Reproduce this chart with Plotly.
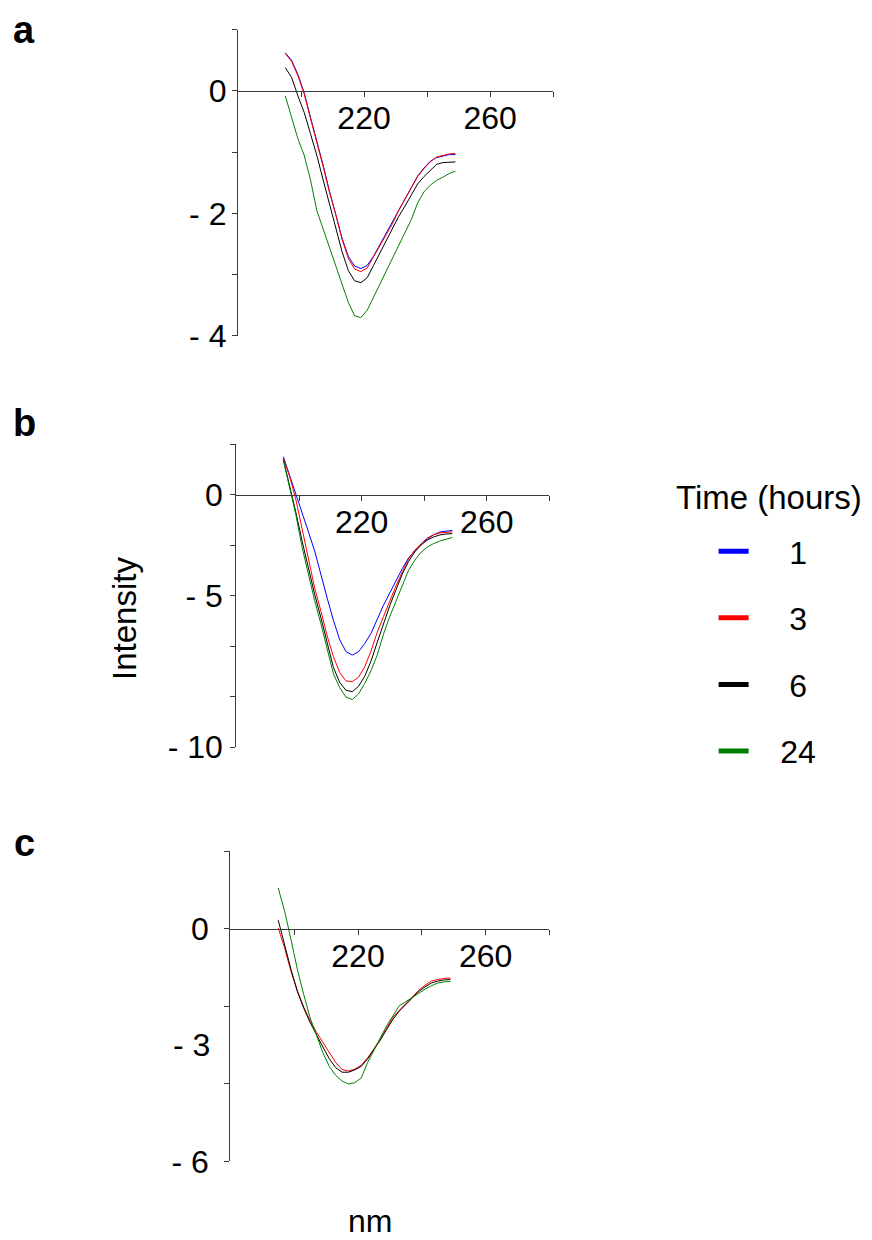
import plotly.graph_objects as go

# ---------------- data ----------------
WAVELENGTH = [195, 197, 199, 201, 203, 205, 207, 209, 211, 213, 215, 217, 219, 221,
              223, 225, 227, 229, 231, 233, 235, 237, 239, 241, 243, 245, 247, 249]

SERIES_NAMES = ["1", "3", "6", "24"]
SERIES_COLORS = ["#0000ff", "#ff0000", "#000000", "#008000"]

# panel a
A_1H = [0.62, 0.50, 0.27, -0.03, -0.43, -0.80, -1.21, -1.63, -2.00, -2.40, -2.70, -2.86, -2.90, -2.85,
        -2.70, -2.51, -2.33, -2.15, -1.94, -1.76, -1.57, -1.39, -1.26, -1.15, -1.09, -1.06, -1.04, -1.04]
A_3H = [0.61, 0.48, 0.25, -0.05, -0.45, -0.82, -1.23, -1.65, -2.01, -2.42, -2.73, -2.91, -2.95, -2.89,
        -2.72, -2.53, -2.35, -2.17, -1.95, -1.77, -1.58, -1.40, -1.27, -1.16, -1.08, -1.05, -1.03, -1.02]
A_6H = [0.38, 0.22, -0.08, -0.35, -0.70, -1.05, -1.45, -1.85, -2.22, -2.62, -2.93, -3.10, -3.13, -3.05,
        -2.85, -2.65, -2.45, -2.27, -2.05, -1.88, -1.70, -1.52, -1.40, -1.30, -1.20, -1.17, -1.16, -1.16]
A_24H = [-0.08, -0.45, -0.78, -1.05, -1.45, -1.95, -2.25, -2.55, -2.82, -3.12, -3.45, -3.67, -3.70, -3.58,
         -3.37, -3.16, -2.95, -2.75, -2.54, -2.33, -2.10, -1.83, -1.65, -1.54, -1.46, -1.41, -1.35, -1.31]

# panel b
B_1H = [1.50, 0.76, 0.10, -0.71, -1.47, -2.23, -3.20, -4.10, -4.98, -5.75, -6.22, -6.36, -6.23, -5.90,
        -5.50, -4.93, -4.38, -3.90, -3.40, -2.93, -2.51, -2.22, -1.95, -1.76, -1.60, -1.48, -1.44, -1.42]
B_3H = [1.45, 0.72, -0.20, -1.40, -2.55, -3.70, -4.62, -5.60, -6.42, -7.05, -7.38, -7.41, -7.24, -6.82,
        -6.20, -5.45, -4.83, -4.20, -3.62, -3.06, -2.55, -2.20, -1.95, -1.72, -1.59, -1.52, -1.50, -1.48]
B_6H = [1.39, 0.38, -0.70, -1.85, -2.93, -3.95, -4.88, -5.90, -6.85, -7.44, -7.75, -7.81, -7.60, -7.20,
        -6.60, -5.85, -5.12, -4.40, -3.77, -3.15, -2.65, -2.27, -2.00, -1.80, -1.68, -1.60, -1.56, -1.55]
B_24H = [1.35, 0.30, -0.80, -2.10, -3.20, -4.20, -5.12, -6.15, -7.10, -7.65, -8.02, -8.12, -7.90, -7.48,
         -6.98, -6.35, -5.53, -4.83, -4.20, -3.57, -3.00, -2.60, -2.28, -2.08, -1.94, -1.84, -1.76, -1.70]

# panel c (1 h curve not visible in the reference)
C_3H = [0.02, -0.50, -1.10, -1.60, -2.02, -2.37, -2.67, -2.93, -3.18, -3.45, -3.63, -3.67, -3.62, -3.52,
        -3.33, -3.10, -2.83, -2.55, -2.28, -2.10, -1.93, -1.75, -1.59, -1.46, -1.35, -1.31, -1.28, -1.27]
C_6H = [0.22, -0.45, -1.05, -1.62, -2.05, -2.42, -2.75, -3.05, -3.35, -3.58, -3.70, -3.70, -3.64, -3.55,
        -3.36, -3.13, -2.87, -2.60, -2.33, -2.12, -1.95, -1.78, -1.62, -1.50, -1.40, -1.35, -1.32, -1.31]
C_24H = [1.05, 0.45, -0.28, -1.05, -1.70, -2.30, -2.75, -3.20, -3.55, -3.78, -3.93, -4.00, -3.97, -3.85,
         -3.45, -3.15, -2.82, -2.50, -2.24, -1.98, -1.88, -1.77, -1.66, -1.56, -1.47, -1.40, -1.37, -1.36]

X_TICKS = [200, 220, 240, 260, 280]
X_TICKTEXT = ["", "220", "", "260", ""]

A_YTICKS = [1, 0, -1, -2, -3, -4]
A_YTEXT = ["", "0", "", "- 2", "", "- 4"]
B_YTICKS = [2, 0, -2, -4, -6, -8, -10]
B_YTEXT = ["", "0", "", "- 5", "", "", "- 10"]
C_YTICKS = [2, 0, -2, -4, -6]
C_YTEXT = ["", "0", "", "", "- 6"]
C_YLABEL_VALS = [-3]
C_YLABEL_TEXT = ["- 3"]

FONT = "Liberation Sans, Arial, sans-serif"
AXC = "#3a3a3a"
W, H = 872, 1240

# ---------------- figure ----------------
fig = go.Figure()

panels = [
    ("x", "y", [A_1H, A_3H, A_6H, A_24H]),
    ("x2", "y2", [B_1H, B_3H, B_6H, B_24H]),
    ("x3", "y3", [None, C_3H, C_6H, C_24H]),
]
for xa, ya, series in panels:
    for name, color, vals in zip(SERIES_NAMES, SERIES_COLORS, series):
        if vals is None:
            continue
        fig.add_trace(go.Scatter(x=WAVELENGTH, y=vals, mode="lines", xaxis=xa, yaxis=ya,
                                 line=dict(color=color, width=1), showlegend=False,
                                 legendgroup=name, hoverinfo="skip"))

# empty trace so the label-only overlay axis of panel c gets drawn
fig.add_trace(go.Scatter(x=[None], y=[None], xaxis="x3", yaxis="y4", mode="lines",
                         showlegend=False, hoverinfo="skip"))

# legend entries
for name, color in zip(SERIES_NAMES, SERIES_COLORS):
    pad = "\u00a0" * (3 if len(name) > 1 else 4)
    fig.add_trace(go.Scatter(x=[None], y=[None], mode="lines", xaxis="x", yaxis="y",
                             line=dict(color=color, width=5), name=pad + name,
                             legendgroup=name, showlegend=True))


def px_dom(a, b):
    return [a / W, b / W]


def py_dom(top, bottom):
    return [1 - bottom / H, 1 - top / H]


def zero_pos(top, bottom, rng):
    zy = top + (bottom - top) * rng[1] / (rng[1] - rng[0])
    return 1 - zy / H


def xaxis(dom, top, bottom, rng):
    return dict(domain=px_dom(*dom), range=[180, 280], anchor="free",
                position=zero_pos(top, bottom, rng), showline=True, linecolor=AXC, linewidth=1.3,
                showgrid=False, zeroline=False, tickmode="array", tickvals=X_TICKS,
                ticktext=X_TICKTEXT, ticks="outside", ticklen=5, tickcolor=AXC, tickwidth=1.3,
                tickfont=dict(family=FONT, size=32, color="black"), ticklabelstandoff=-6)


def yaxis(anchor, top, bottom, rng, tv, tt, standoff):
    return dict(domain=py_dom(top, bottom), range=rng, anchor=anchor, showline=True,
                linecolor=AXC, linewidth=1.3, showgrid=False, zeroline=False,
                tickmode="array", tickvals=tv, ticktext=tt, ticks="outside", ticklen=5,
                tickcolor=AXC, tickwidth=1.3, ticklabelstandoff=standoff,
                tickfont=dict(family=FONT, size=32, color="black"))


RA, RB, RC = [-4, 1], [-10, 2], [-6, 2]
A_TB, B_TB, C_TB = (21.9, 332.8), (442.5, 749.9), (855.6, 1170.4)

fig.update_layout(
    width=W, height=H, margin=dict(l=0, r=0, t=0, b=0),
    paper_bgcolor="white", plot_bgcolor="white",
    font=dict(family=FONT, color="black"),
    xaxis=xaxis((230.0, 545.1), *A_TB, RA),
    yaxis=yaxis("x", *A_TB, RA, A_YTICKS, A_YTEXT, -1),
    xaxis2=xaxis((228.4, 541.4), *B_TB, RB),
    yaxis2=yaxis("x2", *B_TB, RB, B_YTICKS, B_YTEXT, 1),
    xaxis3=xaxis((222.4, 541.4), *C_TB, RC),
    yaxis3=yaxis("x3", *C_TB, RC, C_YTICKS, C_YTEXT, 9),
    yaxis4=dict(domain=py_dom(*C_TB), range=RC, anchor="x3", overlaying="y3",
                side="left", showline=False, showgrid=False, zeroline=False,
                tickmode="array", tickvals=C_YLABEL_VALS, ticktext=C_YLABEL_TEXT, ticks="",
                ticklabelstandoff=19, tickfont=dict(family=FONT, size=32, color="black")),
    legend=dict(x=705.6 / W, xanchor="left", y=1 - 523.5 / H, yanchor="top",
                font=dict(family=FONT, size=32, color="black"), tracegroupgap=22,
                bgcolor="rgba(0,0,0,0)", traceorder="grouped"),
    showlegend=True,
)

annotations = [
    dict(text="<b>a</b>", x=16 / W, y=1 - 22 / H),
    dict(text="<b>b</b>", x=16 / W, y=1 - 421 / H),
    dict(text="<b>c</b>", x=16 / W, y=1 - 847 / H),
]
for a in annotations:
    fig.add_annotation(xref="paper", yref="paper", showarrow=False, xanchor="center",
                       yanchor="middle", font=dict(family=FONT, size=38, color="black"), **a)

fig.add_annotation(text="Time (hours)", xref="paper", yref="paper", x=760.6 / W, y=1 - 496.3 / H,
                   showarrow=False, xanchor="center", yanchor="middle",
                   font=dict(family=FONT, size=33, color="black"))
fig.add_annotation(text="Intensity", xref="paper", yref="paper", x=116 / W, y=1 - 620 / H,
                   textangle=-90, showarrow=False, xanchor="center", yanchor="middle",
                   font=dict(family=FONT, size=33, color="black"))
fig.add_annotation(text="nm", xref="paper", yref="paper", x=362 / W, y=1 - 1231 / H,
                   showarrow=False, xanchor="center", yanchor="middle",
                   font=dict(family=FONT, size=32, color="black"))

fig.write_html("out.html")
